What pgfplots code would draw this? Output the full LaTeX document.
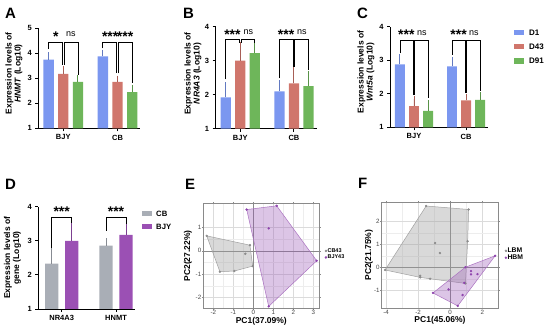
\documentclass[border=0pt]{standalone}
\usepackage{pgfplots}
\pgfplotsset{compat=1.18}
\usepackage{fontspec}
\setmainfont{Liberation Sans}
\definecolor{cD1}{HTML}{7B97F0}
\definecolor{cD43}{HTML}{D0766C}
\definecolor{cD91}{HTML}{6EB65A}
\definecolor{cCB}{HTML}{A9AEB6}
\definecolor{cBJY}{HTML}{9B50B4}
\definecolor{pgray}{HTML}{A0A0A0}
\definecolor{ptgray}{HTML}{8C8C8C}
\definecolor{ppur}{HTML}{9B59B6}
\definecolor{ptpur}{HTML}{8E44AD}
\definecolor{frame}{HTML}{8A8A8A}
\pgfplotsset{
 gp/.style={scale only axis, anchor=south west,
  axis x line*=bottom, axis y line*=left,
  axis line style={line width=0.9pt,-},
  tick align=outside, major tick length=3pt,
  tick style={line width=0.9pt,black},
  xtick={1,2}, xmin=0.54, xmax=2.42,
  ybar, bar width=0.19, bar shift=0pt, ymin=1,
  clip mode=individual,
  ticklabel style={font=\bfseries\fontsize{7.5}{8}\selectfont},
  /pgf/number format/assume math mode=true,
  ylabel style={font=\bfseries\fontsize{8.5}{9}\selectfont, align=center, anchor=center},
  legend cell align=left,
  legend image code/.code={\fill[##1] (0pt,-2.7pt) rectangle (10pt,2.7pt);},
 },
 eb/.style={fill=#1, draw=none, error bars/.cd, y dir=plus, y explicit,
  error bar style={#1!80!black, line width=0.9pt},
  error mark options={#1!80!black, mark size=3pt, line width=0.9pt}},
 pca/.style={scale only axis, anchor=south west,
  axis line style={draw=frame, line width=0.6pt},
  grid=both, minor tick num=1,
  major grid style={black!14, line width=0.45pt},
  minor grid style={black!7, line width=0.3pt},
  tick align=outside, major tick length=1.5pt, minor tick length=0pt,
  tick style={frame, line width=0.5pt},
  ticklabel style={font=\fontsize{6.2}{6.5}\selectfont, text=black!72, inner sep=0.4pt},
  /pgf/number format/assume math mode=true,
  xlabel style={font=\bfseries\fontsize{8.5}{9}\selectfont, at={(axis description cs:0.5,-0.078)}, anchor=north, inner sep=0pt},
  ylabel style={font=\bfseries\fontsize{8.5}{9}\selectfont, anchor=center},
  legend style={draw=none, fill=none, anchor=west, inner sep=0pt, row sep=0pt,
   nodes={inner sep=0.6pt}},
  legend cell align=left,
  legend image code/.code={\draw[mark repeat=2,mark phase=2,##1] plot coordinates {(0pt,0pt) (2pt,0pt) (4pt,0pt)};},
 },
}
\tikzset{br/.style={line width=0.8pt, black},
 st/.style={font=\bfseries\fontsize{14}{14}\selectfont, inner sep=0pt},
 ns/.style={font=\fontsize{9}{9}\selectfont, inner sep=0pt},
 lt/.style={anchor=base west, font=\bfseries\fontsize{15}{15}\selectfont, inner sep=0pt}}
\begin{document}
\begin{tikzpicture}
\path[use as bounding box] (0pt,0pt) rectangle (550pt,331pt);
\node[lt] at (5pt,312.5pt) {A};
\node[lt] at (183pt,312.5pt) {B};
\node[lt] at (357pt,312.5pt) {C};
\node[lt] at (5pt,141pt) {D};
\node[lt] at (185pt,141pt) {E};
\node[lt] at (358pt,142pt) {F};
% ---------- A
\begin{axis}[gp, at={(38.3pt,202.7pt)}, width=102pt, height=100pt,
 ymax=5, ytick={1,2,3,4,5}, xticklabels={BJY,CB},
 ylabel={Expression levels of\\\textit{HNMT} (Log10)},
 ylabel style={at={(axis description cs:-0.238,0.55)}}]
\addplot[eb=cD1] coordinates {(0.73,3.75) +- (0,0.17) (1.73,3.88) +- (0,0.15)};
\addplot[eb=cD43] coordinates {(1,3.18) +- (0,0.2) (2,2.86) +- (0,0.13)};
\addplot[eb=cD91] coordinates {(1.27,2.86) +- (0,0.17) (2.27,2.45) +- (0,0.17)};
\draw[br] (axis cs:0.73,4.17) |- (axis cs:0.985,4.45) -- (axis cs:0.985,3.55);
\draw[br] (axis cs:1.015,3.55) |- (axis cs:1.27,4.45) -- (axis cs:1.27,3.15);
\draw[br] (axis cs:1.73,4.2) |- (axis cs:1.985,4.45) -- (axis cs:1.985,3.2);
\draw[br] (axis cs:2.015,3.2) |- (axis cs:2.27,4.45) -- (axis cs:2.27,2.8);
\node[st] at (axis cs:0.865,4.66) {*};
\node[ns] at (axis cs:1.14,4.75) {ns};
\node[st] at (axis cs:1.865,4.66) {***};
\node[st] at (axis cs:2.14,4.66) {***};
\end{axis}
% ---------- B
\begin{axis}[gp, at={(215.5pt,202.3pt)}, width=101pt, height=102pt,
 ymax=4, ytick={1,2,3,4}, xticklabels={BJY,CB},
 ylabel={Expression levels of\\\textit{NR4A3} (Log10)},
 ylabel style={at={(axis description cs:-0.223,0.54)}}]
\addplot[eb=cD1] coordinates {(0.73,1.92) +- (0,0.36) (1.73,2.1) +- (0,0.23)};
\addplot[eb=cD43] coordinates {(1,3.0) +- (0,0.47) (2,2.33) +- (0,0.4)};
\addplot[eb=cD91] coordinates {(1.27,3.22) +- (0,0.27) (2.27,2.25) +- (0,0.37)};
\draw[br] (axis cs:0.73,2.45) |- (axis cs:0.985,3.64) -- (axis cs:0.985,3.53);
\draw[br] (axis cs:1.015,3.53) |- (axis cs:1.27,3.64) -- (axis cs:1.27,3.53);
\draw[br] (axis cs:1.73,2.48) |- (axis cs:1.985,3.64) -- (axis cs:1.985,2.82);
\draw[br] (axis cs:2.015,2.82) |- (axis cs:2.27,3.64) -- (axis cs:2.27,2.73);
\node[st] at (axis cs:0.855,3.77) {***};
\node[ns] at (axis cs:1.15,3.85) {ns};
\node[st] at (axis cs:1.855,3.77) {***};
\node[ns] at (axis cs:2.15,3.85) {ns};
\end{axis}
% ---------- C
\begin{axis}[gp, at={(390pt,203.7pt)}, width=98pt, height=100.6pt,
 ymax=4, ytick={1,2,3,4}, xticklabels={BJY,CB},
 ylabel={Expression levels of\\\textit{Wnt5a} (Log10)},
 ylabel style={at={(axis description cs:-0.245,0.55)}},
 legend style={at={(axis description cs:1.265,0.985)}, anchor=north west, draw=none, fill=none,
  font=\bfseries\fontsize{8}{9}\selectfont, row sep=6.5pt, inner sep=0pt,
  nodes={inner sep=1pt, text height=5.8pt, text depth=0pt},
  /tikz/every odd column/.append style={column sep=4pt}}]
\addplot[eb=cD1] coordinates {(0.73,2.88) +- (0,0.21) (1.73,2.82) +- (0,0.19)};
\addlegendentry{D1}
\addplot[eb=cD43] coordinates {(1,1.63) +- (0,0.21) (2,1.8) +- (0,0.11)};
\addlegendentry{D43}
\addplot[eb=cD91] coordinates {(1.27,1.49) +- (0,0.24) (2.27,1.82) +- (0,0.15)};
\addlegendentry{D91}
\draw[br] (axis cs:0.73,3.21) |- (axis cs:0.985,3.6) -- (axis cs:0.985,1.96);
\draw[br] (axis cs:1.015,1.96) |- (axis cs:1.27,3.6) -- (axis cs:1.27,1.87);
\draw[br] (axis cs:1.73,3.16) |- (axis cs:1.985,3.6) -- (axis cs:1.985,2.03);
\draw[br] (axis cs:2.015,2.03) |- (axis cs:2.27,3.6) -- (axis cs:2.27,2.08);
\node[st] at (axis cs:0.855,3.75) {***};
\node[ns] at (axis cs:1.15,3.82) {ns};
\node[st] at (axis cs:1.855,3.75) {***};
\node[ns] at (axis cs:2.15,3.82) {ns};
\end{axis}
% ---------- D
\begin{axis}[gp, at={(38.3pt,22pt)}, width=97pt, height=102.3pt,
 xmin=0.569, xmax=2.355, bar width=0.245,
 ymax=4, ytick={1,2,3,4}, xticklabels={NR4A3,HNMT},
 ylabel={Expression levels of\\gene (Log10)},
 ylabel style={at={(axis description cs:-0.266,0.5)}},
 legend style={at={(axis description cs:1.069,0.975)}, anchor=north west, draw=none, fill=none,
  font=\bfseries\fontsize{7.7}{9}\selectfont, row sep=5.5pt, inner sep=0pt,
  nodes={inner sep=1pt, text height=5.6pt, text depth=0pt},
  /tikz/every odd column/.append style={column sep=3pt}}]
\addplot[eb=cCB] coordinates {(0.816,2.33) +- (0,0.4) (1.816,2.86) +- (0,0.13)};
\addlegendentry{CB}
\addplot[eb=cBJY] coordinates {(1.184,3.0) +- (0,0.46) (2.184,3.17) +- (0,0.22)};
\addlegendentry{BJY}
\draw[br] (axis cs:0.816,2.8) |- (axis cs:1.184,3.68) -- (axis cs:1.184,3.52);
\draw[br] (axis cs:1.816,3.3) |- (axis cs:2.184,3.68) -- (axis cs:2.184,3.5);
\node[st] at (axis cs:1.0,3.84) {***};
\node[st] at (axis cs:2.0,3.84) {***};
\end{axis}
% ---------- E
\begin{axis}[pca, at={(203.3pt,22.5pt)}, width=116pt, height=105pt,
 xmin=-2.5, xmax=3.3, ymin=-2.48, ymax=2.03,
 xtick={-2,-1,0,1,2,3}, ytick={-2,-1,0,1},
 xlabel={PC1(37.09\%)}, ylabel={PC2(27.22\%)},
 ylabel style={at={(axis description cs:-0.132,0.5)}},
 legend style={at={(axis description cs:1.047,0.517)}, font=\bfseries\fontsize{5.5}{6}\selectfont}]
\draw[frame, line width=0.5pt] (axis cs:0,-2.48) -- (axis cs:0,2.03);
\draw[frame, line width=0.5pt] (axis cs:-2.5,0) -- (axis cs:3.3,0);
\addplot[fill=pgray, fill opacity=0.4, draw=pgray, line width=0.5pt, forget plot]
 coordinates {(-2.33,0.64) (-0.17,0.24) (-0.03,-0.66) (-0.95,-0.87) (-1.67,-0.9)} -- cycle;
\addplot[fill=ppur, fill opacity=0.35, draw=ppur!85, line width=0.5pt, forget plot]
 coordinates {(-0.33,1.77) (1.17,1.93) (3.17,-0.43) (0.77,-2.39)} -- cycle;
\addplot[only marks, mark=*, mark size=1pt, color=ptgray]
 coordinates {(-2.33,0.64) (-1.67,-0.9) (-0.95,-0.87) (-0.4,-0.13) (-0.17,0.24) (-0.03,-0.66)};
\addlegendentry{CB43}
\addplot[only marks, mark=*, mark size=1pt, color=ptpur]
 coordinates {(-0.33,1.77) (1.17,1.93) (0.77,0.96) (3.17,-0.43) (0.77,-2.39)};
\addlegendentry{BJY43}
\end{axis}
% ---------- F
\begin{axis}[pca, at={(381.7pt,23pt)}, width=116.6pt, height=105.7pt,
 xmin=-4.27, xmax=3.0, ymin=-1.75, ymax=2.81,
 xtick={-4,-2,0,2}, ytick={-1,0,1,2},
 xlabel={PC1(45.06\%)}, ylabel={PC2(21.75\%)},
 ylabel style={at={(axis description cs:-0.109,0.5)}},
 legend style={at={(axis description cs:1.055,0.508)}, font=\bfseries\fontsize{6.8}{7}\selectfont, row sep=-0.5pt}]
\draw[frame, line width=0.5pt] (axis cs:0,-1.75) -- (axis cs:0,2.81);
\draw[frame, line width=0.5pt] (axis cs:-4.27,0) -- (axis cs:3.0,0);
\addplot[fill=pgray, fill opacity=0.4, draw=pgray, line width=0.5pt, forget plot]
 coordinates {(-4.06,-0.11) (-1.5,2.65) (1.15,2.5) (1.09,1.13) (0.95,-0.69) (-1.25,-0.49) (-1.87,-0.43)} -- cycle;
\addplot[fill=ppur, fill opacity=0.35, draw=ppur!85, line width=0.5pt, forget plot]
 coordinates {(2.8,0.5) (0.95,0.01) (-1.07,-1.1) (0.47,-1.66)} -- cycle;
\addplot[only marks, mark=*, mark size=1pt, color=ptgray]
 coordinates {(-4.06,-0.11) (-1.5,2.65) (1.15,2.5) (1.09,1.13) (-0.94,1.05) (-0.64,0.62) (-1.87,-0.36) (-1.87,-0.43) (-1.25,-0.49) (0.95,-0.69)};
\addlegendentry{LBM}
\addplot[only marks, mark=*, mark size=1pt, color=ptpur]
 coordinates {(2.8,0.5) (0.95,0.01) (1.3,-0.16) (1.3,-0.3) (1.7,-0.29) (0.88,-0.67) (-1.07,-1.1) (-0.1,-0.95) (0.77,-1.19) (0.47,-1.66)};
\addlegendentry{HBM}
\end{axis}
\end{tikzpicture}
\end{document}
